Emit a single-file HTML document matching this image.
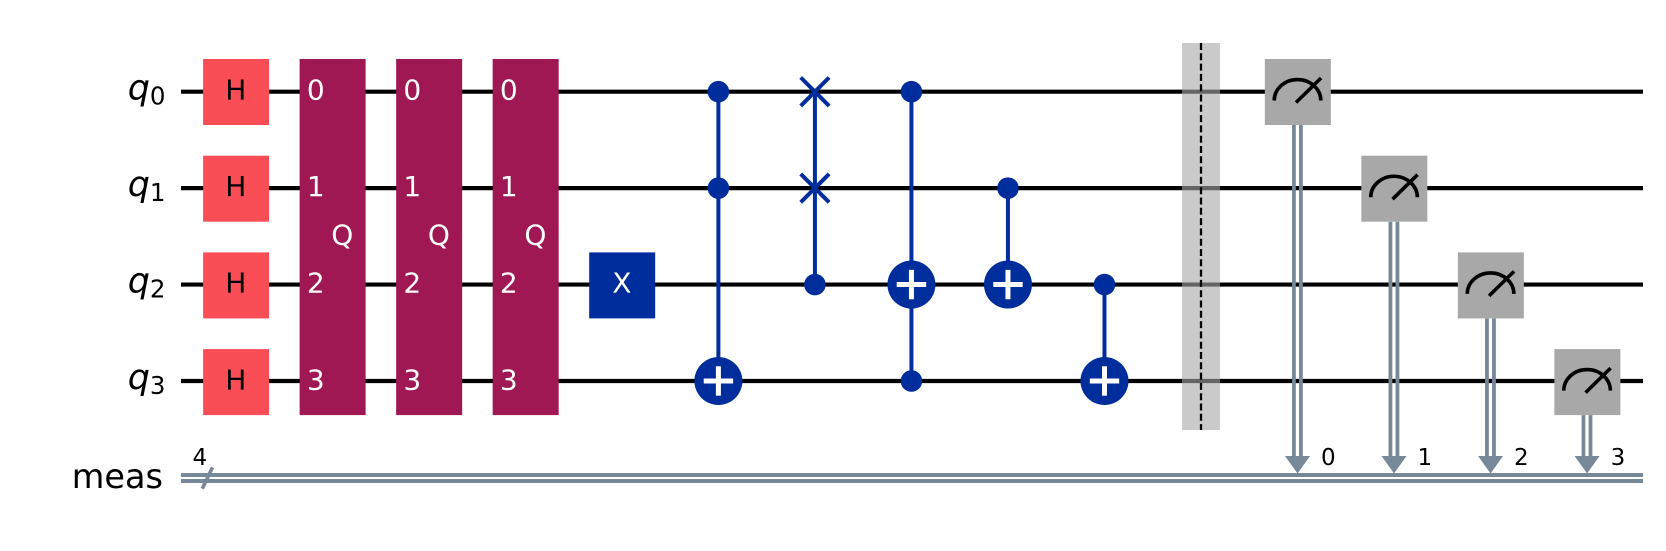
<!DOCTYPE html>
<html lang="en">
<head>
<meta charset="utf-8">
<title>Quantum circuit</title>
<style>
html,body{margin:0;padding:0;background:#fff;width:1666px;height:551px;overflow:hidden}
svg{display:block}
text{font-family:"DejaVu Sans","Liberation Sans",sans-serif}
</style>
</head>
<body>
<svg id="circuit" xmlns="http://www.w3.org/2000/svg" width="1666" height="551" viewBox="0 0 1666 551"></svg>
<script>
// Circuit content (logical columns and qubit indices only)
const qubitLabels = ['0', '1', '2', '3'];
const clbitLabels = ['0', '1', '2', '3'];
const clbitRegisterName = 'meas';
const clbitRegisterSize = '4';
const hadamardColumn = 0;
const hadamardQubits = [0, 1, 2, 3];
const qftColumns = [1, 2, 3];
const qftLabel = 'Q';
const xColumns = [4];
const xQubits = [2];
const controlledXColumns = [5, 7, 8, 9];
const controlledXControls = [[0, 1], [0, 3], [1], [2]];
const controlledXTargets = [3, 2, 2, 3];
const swapColumns = [6];
const swapControls = [2];
const swapTargets = [[0, 1]];
const barrierColumn = 10;
const measureColumns = [11, 12, 13, 14];
const measureQubits = [0, 1, 2, 3];

// Axis functions
const columnX = (c) => 235.8 + 96.52 * c;
const wireY = (q) => 91.7 + 96.43 * q;
const gateTop = (q) => 59 + 96.7 * q;

const WIRE_LEFT = 181, WIRE_RIGHT = 1643;
const GATE = 66;
const svg = document.getElementById('circuit');

function make(tag, attrs, text) {
  const el = document.createElementNS('http://www.w3.org/2000/svg', tag);
  for (const k in attrs) el.setAttribute(k, attrs[k]);
  if (text !== undefined) el.textContent = text;
  svg.appendChild(el);
  return el;
}
function line(x1, y1, x2, y2, stroke, w) {
  return make('line', { x1, y1, x2, y2, stroke, 'stroke-width': w });
}
function gateBox(cx, q0, q1, fill) {
  return make('rect', { x: cx - GATE / 2 + 0.3, y: gateTop(q0), width: GATE, height: gateTop(q1) - gateTop(q0) + GATE, fill });
}
function label(x, y, size, fill, anchor, text) {
  return make('text', { x, y, 'font-size': size, fill, 'text-anchor': anchor }, text);
}

// Qubit wires and labels
qubitLabels.forEach((name, q) => {
  const wire = line(WIRE_LEFT, wireY(q), WIRE_RIGHT, wireY(q), '#000', 4.2);
  
  
  const t = make('text', { x: 165.5, y: wireY(q) + 8, 'font-size': 35, fill: '#000', 'text-anchor': 'end' });
  
  
  const base = document.createElementNS('http://www.w3.org/2000/svg', 'tspan');
  base.setAttribute('font-style', 'italic');
  base.textContent = 'q';
  const sub = document.createElementNS('http://www.w3.org/2000/svg', 'tspan');
  sub.setAttribute('font-size', '24.5');
  sub.setAttribute('dy', '5');
  sub.textContent = name;
  t.appendChild(base);
  t.appendChild(sub);
});

// Classical bus
[475, 481].forEach((y, i) => {
  const bus = line(WIRE_LEFT, y, WIRE_RIGHT, y, '#778899', 4);
  
  
});
const busLabel = label(163, 488, 33.5, '#000', 'end', clbitRegisterName);


const slash = line(202.3, 488.7, 212.5, 467.3, '#778899', 3.6);


const sizeLabel = label(192.5, 465, 23, '#000', 'start', clbitRegisterSize);



// Barrier
const bx = columnX(barrierColumn);
const barrierBand = make('rect', { x: bx - 19, y: 43, width: 38, height: 387, fill: '#a6a6a6', 'fill-opacity': 0.6 });


const barrierLine = line(bx, 43, bx, 430, '#000', 2.3);
barrierLine.setAttribute('stroke-dasharray', '7 3.3');



// Hadamard gates
hadamardQubits.forEach((q) => {
  const cx = columnX(hadamardColumn);
  const box = gateBox(cx, q, q, '#fa4d56');
  
  
  const t = label(cx, gateTop(q) + 40.3, 28, '#000', 'middle', 'H');
  
  
});

// Multi-qubit Q blocks
qftColumns.forEach((c) => {
  const cx = columnX(c);
  const last = qubitLabels.length - 1;
  const box = gateBox(cx, 0, last, '#9f1853');
  
  
  const name = label(cx + 10, (wireY(0) + wireY(last)) / 2 + 8, 28, '#fff', 'middle', qftLabel);
  
  
  qubitLabels.forEach((idx, q) => {
    const t = label(cx - 25.5, gateTop(q) + 40.3, 28, '#fff', 'start', idx);
    
    
  });
});

// X gates
xColumns.forEach((c, i) => {
  const box = gateBox(columnX(c), xQubits[i], xQubits[i], '#002d9c');
  
  
  const t = label(columnX(c), gateTop(xQubits[i]) + 40.3, 28, '#fff', 'middle', 'X');
  
  
});

const BLUE = '#002d9c';
function controlDot(c, q) {
  const dot = make('circle', { cx: columnX(c), cy: wireY(q), r: 10.8, fill: BLUE });
  
  
}

// Controlled-X gates
controlledXColumns.forEach((c, i) => {
  const cx = columnX(c);
  const target = controlledXTargets[i];
  const ys = controlledXControls[i].concat(target).map(wireY);
  const link = line(cx, Math.min(...ys), cx, Math.max(...ys), BLUE, 4);
  
  
  controlledXControls[i].forEach((q) => controlDot(c, q));
  const ty = wireY(target);
  const ring = make('circle', { cx, cy: ty, r: 24, fill: BLUE });
  
  
  const h = line(cx - 14.7, ty, cx + 14.7, ty, '#fff', 5);
  
  
  const v = line(cx, ty - 14.7, cx, ty + 14.7, '#fff', 5);
  
  
});

// Controlled swap
swapColumns.forEach((c, i) => {
  const cx = columnX(c);
  const ys = swapTargets[i].concat(swapControls[i]).map(wireY);
  const link = line(cx, Math.min(...ys), cx, Math.max(...ys), BLUE, 4);
  
  
  controlDot(c, swapControls[i]);
  swapTargets[i].forEach((q) => {
    const y = wireY(q);
    const a = line(cx - 14.2, y - 14.2, cx + 14.2, y + 14.2, BLUE, 4);
    
    
    const b = line(cx - 14.2, y + 14.2, cx + 14.2, y - 14.2, BLUE, 4);
    
    
  });
});

// Measurements
measureColumns.forEach((c, i) => {
  const cx = columnX(c);
  const q = measureQubits[i];
  const y = gateTop(q) + 33;
  const gateBottom = y + 33;
  [-3.6, 3.4].forEach((dx) => {
    const rail = line(cx + dx, gateBottom, cx + dx, 458, '#778899', 3.8);
    
    
  });
  const arrow = make('polygon', { points: `${cx - 12.5},456 ${cx + 12.5},456 ${cx},473.5`, fill: '#778899' });
  
  
  const box = gateBox(cx, q, q, '#a8a8a8');
  
  
  const arc = make('path', { d: `M${cx - 23.3} ${y + 8.5}A23.3 21 0 0 1 ${cx + 23.3} ${y + 8.5}`, fill: 'none', stroke: '#000', 'stroke-width': 3.6 });
  
  
  const needle = line(cx - 1.5, y + 10.5, cx + 23.5, y - 14, '#000', 3.6);
  
  
  const t = label(cx + 23.5, 465, 23, '#000', 'start', clbitLabels[i]);
  
  
});
</script>
</body>
</html>
